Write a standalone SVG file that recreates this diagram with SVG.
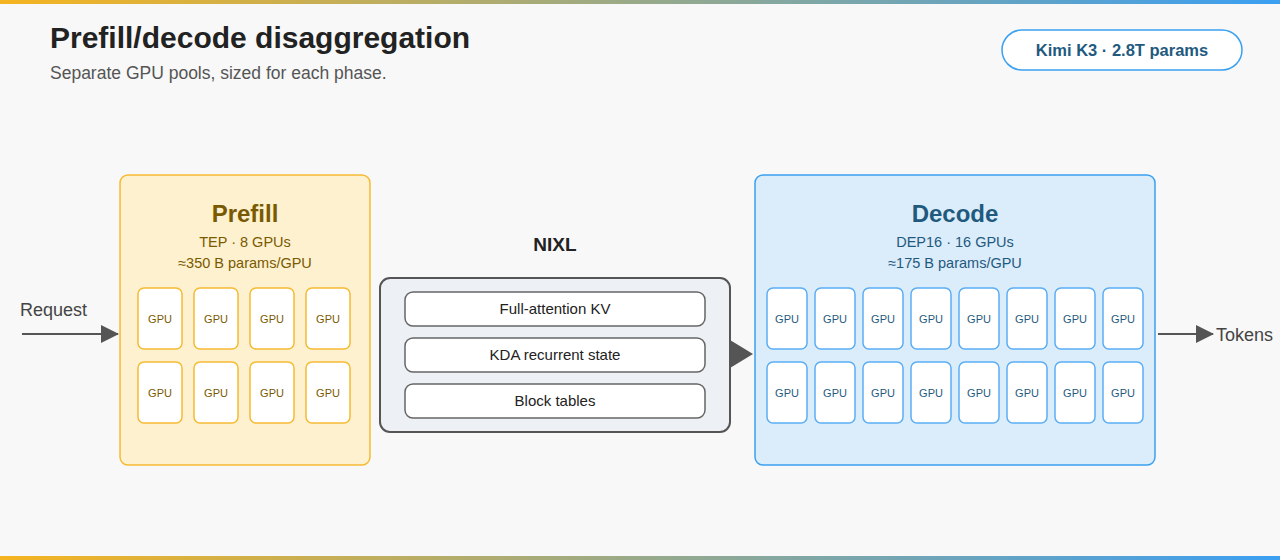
<svg xmlns="http://www.w3.org/2000/svg" width="1280" height="560" viewBox="0 0 1280 560">
<defs>
<linearGradient id="bar" x1="0" x2="1" y1="0" y2="0"><stop offset="0" stop-color="#f6b420"/><stop offset="1" stop-color="#3b9ff2"/></linearGradient>
<marker id="ah" markerWidth="18" markerHeight="18" refX="17" refY="9" orient="auto" markerUnits="userSpaceOnUse" viewBox="0 0 18 18"><path d="M0,0 L18,9 L0,18 z" fill="#555"/></marker>
</defs>
<style>
text{font-family:"Liberation Sans",Arial,sans-serif}
.pg{fill:#fff;stroke:#f5bb33;stroke-width:1.5}
.dg{fill:#fff;stroke:#5aaef5;stroke-width:1.5}
.pt{font-size:11px;fill:#7a5a00;text-anchor:middle}
.dt{font-size:11px;fill:#1f5a7e;text-anchor:middle}
.it{fill:#fff;stroke:#666;stroke-width:1.5}
.itt{font-size:15px;fill:#222;text-anchor:middle}
</style>
<rect width="1280" height="560" fill="#f8f8f8"/>
<rect width="1280" height="4" fill="url(#bar)"/>
<rect y="556" width="1280" height="4" fill="url(#bar)"/>
<text x="50" y="48" font-size="30" font-weight="bold" fill="#222">Prefill/decode disaggregation</text>
<text x="50" y="79" font-size="17.5" fill="#555">Separate GPU pools, sized for each phase.</text>
<g id="badge"><rect x="1002" y="30" width="240" height="40" rx="20" fill="#fff" stroke="#3aa0f0" stroke-width="1.5"/><text x="1122" y="56" font-size="16.5" font-weight="bold" fill="#1f5a7e" text-anchor="middle">Kimi K3 · 2.8T params</text></g>
<g id="connectors">
<line x1="22" y1="334" x2="118" y2="334" stroke="#555" stroke-width="2" marker-end="url(#ah)"/>
<line x1="1158" y1="334" x2="1213" y2="334" stroke="#555" stroke-width="2" marker-end="url(#ah)"/>
<path d="M730,340 L753,354 L730,368 z" fill="#555"/>
<text x="20" y="316" font-size="18" fill="#444">Request</text>
<text x="1216" y="341" font-size="18" fill="#444">Tokens</text>
</g>
<g id="prefill">
<rect x="120" y="175" width="250" height="290" rx="8" fill="#fdf1cf" stroke="#f5bb33" stroke-width="1.5"/>
<text x="245" y="222" font-size="24" font-weight="bold" fill="#7a5a00" text-anchor="middle">Prefill</text>
<text x="245" y="247" font-size="14.5" fill="#7a5a00" text-anchor="middle">TEP · 8 GPUs</text>
<text x="245" y="268" font-size="14.5" fill="#7a5a00" text-anchor="middle">≈350 B params/GPU</text>
<g>
<rect class="pg" x="138" y="288" width="44" height="61" rx="6"/><text class="pt" x="160" y="323">GPU</text>
<rect class="pg" x="194" y="288" width="44" height="61" rx="6"/><text class="pt" x="216" y="323">GPU</text>
<rect class="pg" x="250" y="288" width="44" height="61" rx="6"/><text class="pt" x="272" y="323">GPU</text>
<rect class="pg" x="306" y="288" width="44" height="61" rx="6"/><text class="pt" x="328" y="323">GPU</text>
<rect class="pg" x="138" y="362" width="44" height="61" rx="6"/><text class="pt" x="160" y="397">GPU</text>
<rect class="pg" x="194" y="362" width="44" height="61" rx="6"/><text class="pt" x="216" y="397">GPU</text>
<rect class="pg" x="250" y="362" width="44" height="61" rx="6"/><text class="pt" x="272" y="397">GPU</text>
<rect class="pg" x="306" y="362" width="44" height="61" rx="6"/><text class="pt" x="328" y="397">GPU</text>
</g>
</g>
<g id="nixl">
<text x="555" y="251" font-size="19" font-weight="bold" fill="#222" text-anchor="middle">NIXL</text>
<rect x="380" y="278" width="350" height="154" rx="10" fill="#edf1f5" stroke="#555" stroke-width="2"/>
<rect class="it" x="405" y="292" width="300" height="34" rx="8"/><text class="itt" x="555" y="314">Full-attention KV</text>
<rect class="it" x="405" y="338" width="300" height="34" rx="8"/><text class="itt" x="555" y="360">KDA recurrent state</text>
<rect class="it" x="405" y="384" width="300" height="34" rx="8"/><text class="itt" x="555" y="406">Block tables</text>
</g>
<g id="decode">
<rect x="755" y="175" width="400" height="290" rx="8" fill="#dbecfb" stroke="#3aa0f0" stroke-width="1.5"/>
<text x="955" y="222" font-size="24" font-weight="bold" fill="#1f5a7e" text-anchor="middle">Decode</text>
<text x="955" y="247" font-size="14.5" fill="#1f5a7e" text-anchor="middle">DEP16 · 16 GPUs</text>
<text x="955" y="268" font-size="14.5" fill="#1f5a7e" text-anchor="middle">≈175 B params/GPU</text>
<g>
<rect class="dg" x="767" y="288" width="40" height="61" rx="6"/><text class="dt" x="787" y="323">GPU</text>
<rect class="dg" x="815" y="288" width="40" height="61" rx="6"/><text class="dt" x="835" y="323">GPU</text>
<rect class="dg" x="863" y="288" width="40" height="61" rx="6"/><text class="dt" x="883" y="323">GPU</text>
<rect class="dg" x="911" y="288" width="40" height="61" rx="6"/><text class="dt" x="931" y="323">GPU</text>
<rect class="dg" x="959" y="288" width="40" height="61" rx="6"/><text class="dt" x="979" y="323">GPU</text>
<rect class="dg" x="1007" y="288" width="40" height="61" rx="6"/><text class="dt" x="1027" y="323">GPU</text>
<rect class="dg" x="1055" y="288" width="40" height="61" rx="6"/><text class="dt" x="1075" y="323">GPU</text>
<rect class="dg" x="1103" y="288" width="40" height="61" rx="6"/><text class="dt" x="1123" y="323">GPU</text>
<rect class="dg" x="767" y="362" width="40" height="61" rx="6"/><text class="dt" x="787" y="397">GPU</text>
<rect class="dg" x="815" y="362" width="40" height="61" rx="6"/><text class="dt" x="835" y="397">GPU</text>
<rect class="dg" x="863" y="362" width="40" height="61" rx="6"/><text class="dt" x="883" y="397">GPU</text>
<rect class="dg" x="911" y="362" width="40" height="61" rx="6"/><text class="dt" x="931" y="397">GPU</text>
<rect class="dg" x="959" y="362" width="40" height="61" rx="6"/><text class="dt" x="979" y="397">GPU</text>
<rect class="dg" x="1007" y="362" width="40" height="61" rx="6"/><text class="dt" x="1027" y="397">GPU</text>
<rect class="dg" x="1055" y="362" width="40" height="61" rx="6"/><text class="dt" x="1075" y="397">GPU</text>
<rect class="dg" x="1103" y="362" width="40" height="61" rx="6"/><text class="dt" x="1123" y="397">GPU</text>
</g>
</g>
</svg>
